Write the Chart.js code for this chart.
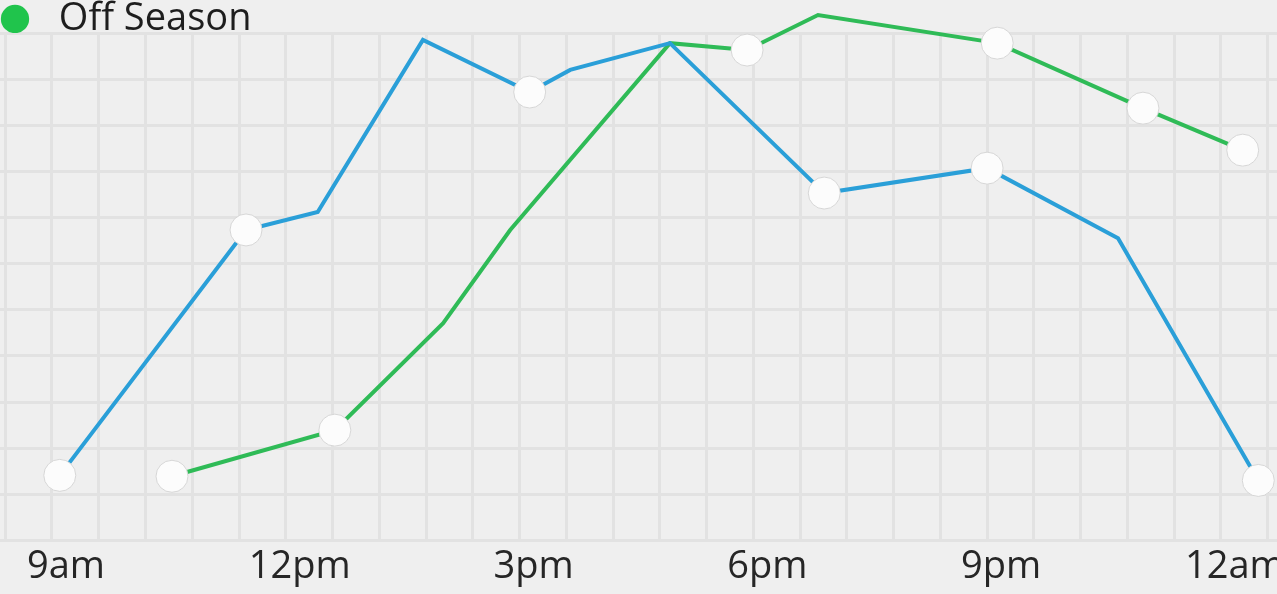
<!DOCTYPE html>
<html lang="en">
<head>
<meta charset="UTF-8">
<meta name="viewport" content="width=device-width, initial-scale=1.0">
<title>Season Activity by Hour</title>
<script src="https://cdn.jsdelivr.net/npm/chart.js"></script>
<style>
  html, body { margin: 0; padding: 0; background: #efefef; overflow: hidden; }
  #wrap { position: relative; width: 1277px; height: 594px; }
</style>
</head>
<body>
<div id="wrap"><canvas id="seasonChart"></canvas></div>
<script>
  // x axis labels (hour of day, 24 = midnight)
  const tickHours = [9, 12, 15, 18, 21, 24];
  const tickLabels = ['9am', '12pm', '3pm', '6pm', '9pm', '12am'];

  // blue series (legend entry is cut off in the reference)
  const blueHours  = [9.10, 11.49, 12.41, 13.76, 15.13, 15.65, 16.93, 18.91, 21.00, 22.68, 24.48];
  const blueValues = [14.1, 67.3, 71.2, 108.5, 97.2, 102.0, 107.8, 75.3, 80.7, 65.5, 13.0];
  const blueMarked = [1, 1, 0, 0, 1, 0, 0, 1, 1, 0, 1];

  // Off Season
  const offHours  = [10.54, 12.63, 14.02, 14.88, 16.93, 17.92, 18.83, 21.13, 23.00, 24.28];
  const offValues = [13.9, 23.9, 47.1, 67.3, 107.8, 106.3, 113.9, 107.8, 93.7, 84.6];
  const offMarked = [1, 1, 0, 0, 0, 1, 0, 1, 1, 1];

  const toPoints = (xs, ys) => xs.map((x, i) => ({ x: x, y: ys[i] }));
  const dotSizes = marks => marks.map(m => (m ? 16 : 0));

  Chart.defaults.font.family = "'Open Sans', sans-serif";
  Chart.defaults.color = '#262626';

  const gridStyle = { color: '#e2e2e2', lineWidth: 3, drawTicks: false };
  const legendGreen = '#20c44c';

  // keep the legend strip tight so the plot starts right under it
  const tightLegend = {
    id: 'tightLegend',
    beforeInit(chart) {
      const fit = chart.legend.fit;
      chart.legend.fit = function () {
        fit.call(this);
        this.height = 33;
      };
    }
  };

  const ctx = document.getElementById('seasonChart').getContext('2d');
  new Chart(ctx, {
    type: 'line',
    plugins: [tightLegend],
    data: {
      datasets: [
        {
          label: '',
          data: toPoints(blueHours, blueValues),
          borderColor: '#2a9fd8',
          borderWidth: 4,
          pointRadius: dotSizes(blueMarked),
          pointHoverRadius: dotSizes(blueMarked),
          pointBackgroundColor: '#fcfcfc',
          pointBorderColor: '#d6d6d6',
          pointBorderWidth: 1,
          tension: 0,
          clip: false
        },
        {
          label: 'Off Season',
          data: toPoints(offHours, offValues),
          borderColor: '#2fbb57',
          borderWidth: 4,
          pointRadius: dotSizes(offMarked),
          pointHoverRadius: dotSizes(offMarked),
          pointBackgroundColor: '#fcfcfc',
          pointBorderColor: '#d6d6d6',
          pointBorderWidth: 1,
          tension: 0,
          clip: false
        }
      ]
    },
    options: {
      responsive: true,
      maintainAspectRatio: false,
      animation: false,
      layout: { padding: 0, autoPadding: false },
      plugins: {
        tooltip: { enabled: false },
        legend: {
          position: 'top',
          align: 'start',
          labels: {
            usePointStyle: true,
            pointStyle: 'circle',
            boxWidth: 30,
            boxHeight: 20,
            padding: 0,
            color: '#1e1e1e',
            font: { size: 38 },
            generateLabels: chart => Chart.defaults.plugins.legend.labels.generateLabels(chart)
              .filter(item => item.text)
              .map(item => Object.assign(item, {
                text: ' ' + item.text,
                fillStyle: legendGreen,
                strokeStyle: legendGreen,
                lineWidth: 0
              }))
          }
        }
      },
      scales: {
        x: {
          type: 'linear',
          min: 8.333,
          max: 24.72,
          grid: gridStyle,
          border: { display: false },
          afterFit: scale => { scale.paddingLeft = 0; scale.paddingRight = 0; },
          ticks: {
            stepSize: 0.6,
            autoSkip: false,
            maxRotation: 0,
            includeBounds: false,
            labelOffset: 14,
            padding: 4,
            color: '#262626',
            font: { size: 38 },
            callback: v => {
              const i = tickHours.findIndex(h => Math.abs(h - v) < 1e-6);
              return i < 0 ? '' : tickLabels[i];
            }
          }
        },
        y: {
          min: 0,
          max: 110,
          grid: gridStyle,
          border: { display: false },
          afterFit: scale => { scale.width = 0; },
          ticks: { display: false, stepSize: 10 }
        }
      }
    }
  });
</script>
</body>
</html>
